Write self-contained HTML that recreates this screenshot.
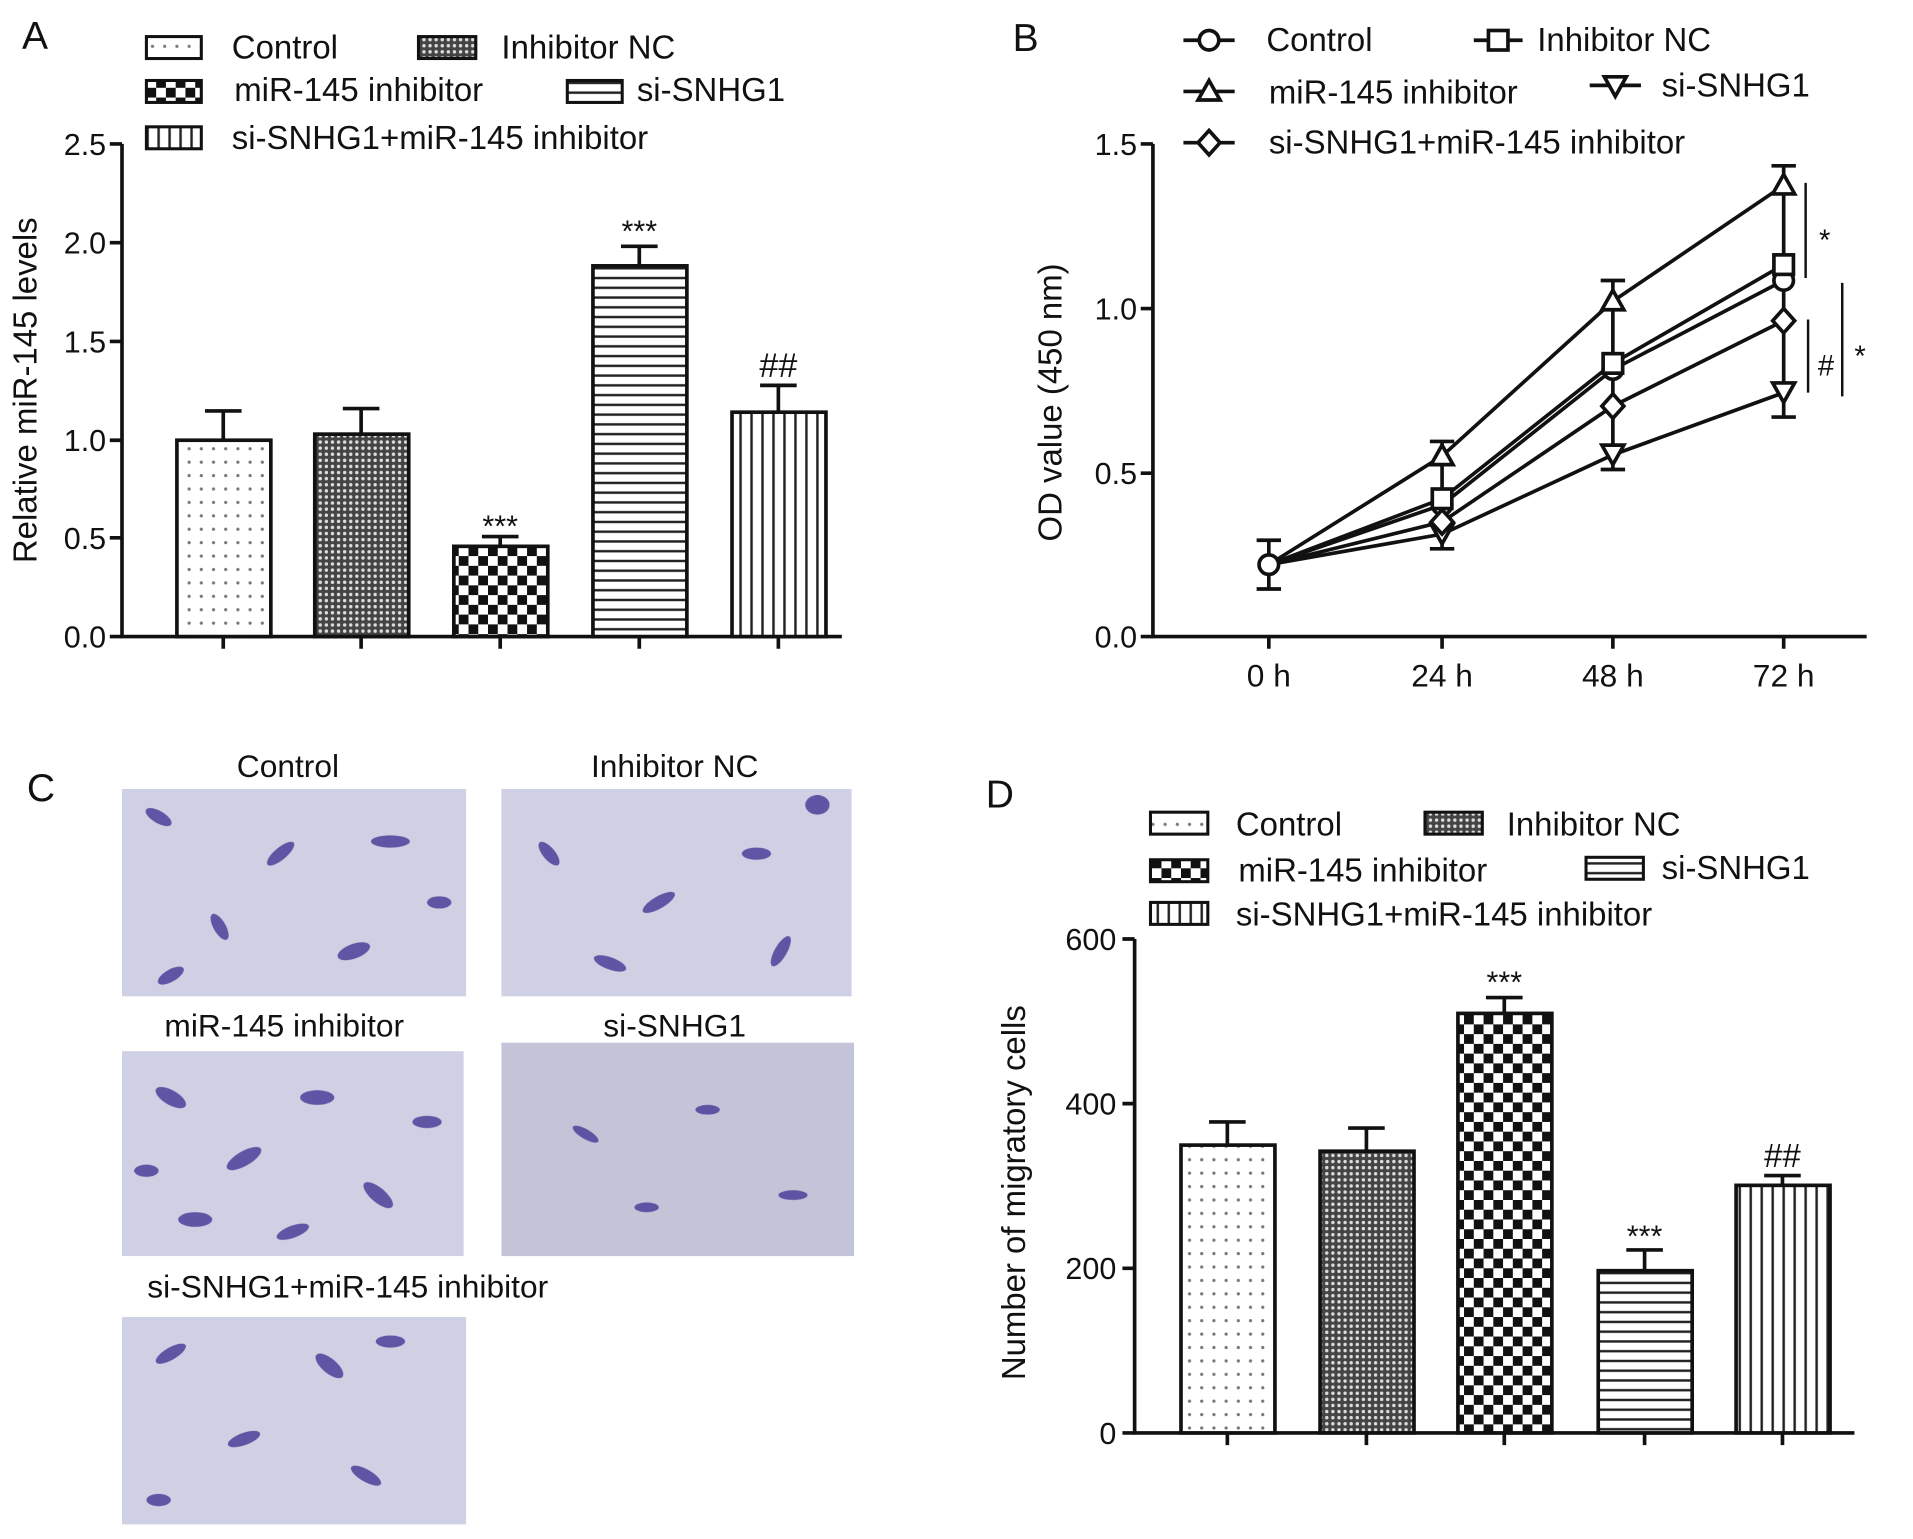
<!DOCTYPE html>
<html><head><meta charset="utf-8"><style>
html,body{margin:0;padding:0;background:#fff;}
svg{display:block;}
text{font-family:"Liberation Sans",Arial,sans-serif;fill:#111;}
</style></head><body>
<svg width="1913" height="1539" viewBox="0 0 1568 1262" preserveAspectRatio="none" xmlns="http://www.w3.org/2000/svg">
<defs>
<pattern id="dots" width="10" height="11" patternUnits="userSpaceOnUse"><rect width="10" height="11" fill="#fff"/><circle cx="5" cy="5" r="1.3" fill="#777"/></pattern>
<pattern id="cross" width="5" height="5" patternUnits="userSpaceOnUse"><rect width="5" height="5" fill="#444"/><circle cx="2.5" cy="2.5" r="1.4" fill="#ddd"/></pattern>
<pattern id="check" width="16" height="16" patternUnits="userSpaceOnUse"><rect width="16" height="16" fill="#fff"/><rect width="8" height="8" fill="#111"/><rect x="8" y="8" width="8" height="8" fill="#111"/></pattern>
<pattern id="hlines" width="10" height="8" patternUnits="userSpaceOnUse"><rect width="10" height="8" fill="#fff"/><rect y="3" width="10" height="2" fill="#222"/></pattern>
<pattern id="vlines" width="9" height="10" patternUnits="userSpaceOnUse"><rect width="9" height="10" fill="#fff"/><rect x="3" width="2" height="10" fill="#222"/></pattern>
</defs>
<g stroke="#111" stroke-width="3" fill="none">
<path d="M100 118V522H690"/>
<path d="M90 118H100M90 199H100M90 280H100M90 361H100M90 441H100M90 522H100"/>
<path d="M183 522V532M296 522V532M410 522V532M524 522V532M638 522V532"/>
</g>
<g font-size="25" text-anchor="end">
<text x="87" y="127">2.5</text><text x="87" y="208">2.0</text><text x="87" y="289">1.5</text><text x="87" y="370">1.0</text><text x="87" y="450">0.5</text><text x="87" y="531">0.0</text>
</g>
<text x="30" y="320" font-size="27" text-anchor="middle" transform="rotate(-90 30 320)">Relative miR-145 levels</text>
<text x="18" y="40" font-size="32">A</text>
<g stroke="#111" stroke-width="3">
<path d="M183 361V337M168 337H198M296 356V335M281 335H311M410 448V440M395 440H425M524 218V202M509 202H539M638 338V316M623 316H653"/>
<rect x="145" y="361" width="77" height="161" fill="url(#dots)"/>
<rect x="258" y="356" width="77" height="166" fill="url(#cross)"/>
<rect x="372" y="448" width="77" height="74" fill="url(#check)"/>
<rect x="486" y="218" width="77" height="304" fill="url(#hlines)"/>
<rect x="600" y="338" width="77" height="184" fill="url(#vlines)"/>
</g>
<g font-size="25" text-anchor="middle"><text x="410" y="440">***</text><text x="524" y="198">***</text><text x="638" y="309" font-size="28">##</text></g>
<g stroke="#111" stroke-width="2.5">
<rect x="120" y="30" width="45" height="18" fill="url(#dots)"/>
<rect x="343" y="30" width="47" height="18" fill="url(#cross)"/>
<rect x="120" y="66" width="45" height="18" fill="url(#check)"/>
<rect x="465" y="66" width="45" height="18" fill="url(#hlines)"/>
<rect x="120" y="104" width="45" height="18" fill="url(#vlines)"/>
</g>
<g font-size="27"><text x="190" y="48">Control</text><text x="411" y="48">Inhibitor NC</text><text x="192" y="83">miR-145 inhibitor</text><text x="522" y="83">si-SNHG1</text><text x="190" y="122">si-SNHG1+miR-145 inhibitor</text></g>

<text x="830" y="42" font-size="32">B</text>
<g stroke="#111" stroke-width="3" fill="none">
<path d="M945 118V522H1530"/>
<path d="M935 118H945M935 253H945M935 388H945M935 522H945"/>
<path d="M1040 522V532M1182 522V532M1322 522V532M1462 522V532"/>
</g>
<g font-size="25" text-anchor="end"><text x="932" y="127">1.5</text><text x="932" y="262">1.0</text><text x="932" y="397">0.5</text><text x="932" y="531">0.0</text></g>
<g font-size="26" text-anchor="middle"><text x="1040" y="563">0 h</text><text x="1182" y="563">24 h</text><text x="1322" y="563">48 h</text><text x="1462" y="563">72 h</text></g>
<text x="870" y="330" font-size="27" text-anchor="middle" transform="rotate(-90 870 330)">OD value (450 nm)</text>
<g stroke="#111" stroke-width="3" fill="none">
<polyline points="1040,463 1182,414 1322,303 1462,230"/>
<polyline points="1040,463 1182,409 1322,298 1462,217"/>
<polyline points="1040,463 1182,374 1322,247 1462,152"/>
<polyline points="1040,463 1182,438 1322,373 1462,322"/>
<polyline points="1040,463 1182,428 1322,333 1462,263"/>
<path d="M1040 443V483M1030 443H1050M1030 483H1050M1182 362V450M1172 362H1192M1172 450H1192M1322 230V385M1312 230H1332M1312 385H1332M1462 136V342M1452 136H1472M1452 342H1472"/>
</g>
<g stroke="#111" stroke-width="3" fill="#fff">
<circle cx="1182" cy="414" r="8"/><circle cx="1322" cy="303" r="8"/><circle cx="1462" cy="230" r="8"/>
<rect x="1174" y="401" width="16" height="16"/><rect x="1314" y="290" width="16" height="16"/><rect x="1454" y="209" width="16" height="16"/>
<path d="M1182 365L1191 381H1173Z M1322 238L1331 254H1313Z M1462 143L1471 159H1453Z"/>
<path d="M1182 446L1191 430H1173Z M1322 381L1331 365H1313Z M1462 330L1471 314H1453Z"/>
<path d="M1182 418L1191 428L1182 438L1173 428Z M1322 323L1331 333L1322 343L1313 333Z M1462 253L1471 263L1462 273L1453 263Z"/>
<circle cx="1040" cy="463" r="8"/>
</g>
<g stroke="#111" stroke-width="2"><path d="M1480 150V228M1482 262V322M1510 232V325"/></g>
<g font-size="24"><text x="1491" y="205">*</text><text x="1490" y="308">#</text><text x="1520" y="300">*</text></g>
<g stroke="#111" stroke-width="3" fill="#fff">
<path d="M970 33H1012M1208 33H1248M970 75H1012M1303 70H1345M970 117H1012"/>
<circle cx="991" cy="33" r="8"/><rect x="1220" y="25" width="16" height="16"/>
<path d="M991 66L1000 82H982Z"/><path d="M1324 79L1333 63H1315Z"/><path d="M991 107L1000 117L991 127L982 117Z"/>
</g>
<g font-size="27"><text x="1038" y="42">Control</text><text x="1260" y="42">Inhibitor NC</text><text x="1040" y="85">miR-145 inhibitor</text><text x="1362" y="79">si-SNHG1</text><text x="1040" y="126">si-SNHG1+miR-145 inhibitor</text></g>

<text x="22" y="657" font-size="32">C</text>
<g font-size="26" text-anchor="middle"><text x="236" y="637">Control</text><text x="553" y="637">Inhibitor NC</text><text x="233" y="850">miR-145 inhibitor</text><text x="553" y="850">si-SNHG1</text><text x="285" y="1064">si-SNHG1+miR-145 inhibitor</text></g>
<g fill="#cfd0e3">
<rect x="100" y="647" width="282" height="170"/><rect x="411" y="647" width="287" height="170"/>
<rect x="100" y="862" width="280" height="168"/><rect x="411" y="855" width="289" height="175" fill="#c4c4d8"/>
<rect x="100" y="1080" width="282" height="170"/>
</g>
<g fill="#4a3f9a" opacity="0.85">
<ellipse cx="130" cy="670" rx="12" ry="5" transform="rotate(30 130 670)"/><ellipse cx="230" cy="700" rx="14" ry="5" transform="rotate(-40 230 700)"/><ellipse cx="320" cy="690" rx="16" ry="5"/><ellipse cx="180" cy="760" rx="12" ry="5" transform="rotate(60 180 760)"/><ellipse cx="290" cy="780" rx="14" ry="6" transform="rotate(-20 290 780)"/><ellipse cx="360" cy="740" rx="10" ry="5"/><ellipse cx="140" cy="800" rx="12" ry="5" transform="rotate(-30 140 800)"/>
<ellipse cx="450" cy="700" rx="12" ry="5" transform="rotate(50 450 700)"/><ellipse cx="540" cy="740" rx="15" ry="5" transform="rotate(-30 540 740)"/><ellipse cx="620" cy="700" rx="12" ry="5"/><ellipse cx="670" cy="660" rx="10" ry="8"/><ellipse cx="500" cy="790" rx="14" ry="5" transform="rotate(20 500 790)"/><ellipse cx="640" cy="780" rx="14" ry="5" transform="rotate(-60 640 780)"/>
<ellipse cx="140" cy="900" rx="14" ry="6" transform="rotate(30 140 900)"/><ellipse cx="200" cy="950" rx="16" ry="6" transform="rotate(-30 200 950)"/><ellipse cx="260" cy="900" rx="14" ry="6"/><ellipse cx="310" cy="980" rx="15" ry="6" transform="rotate(40 310 980)"/><ellipse cx="160" cy="1000" rx="14" ry="6"/><ellipse cx="240" cy="1010" rx="14" ry="5" transform="rotate(-20 240 1010)"/><ellipse cx="350" cy="920" rx="12" ry="5"/><ellipse cx="120" cy="960" rx="10" ry="5"/>
<ellipse cx="480" cy="930" rx="12" ry="4" transform="rotate(30 480 930)"/><ellipse cx="580" cy="910" rx="10" ry="4"/><ellipse cx="650" cy="980" rx="12" ry="4"/><ellipse cx="530" cy="990" rx="10" ry="4"/>
<ellipse cx="140" cy="1110" rx="14" ry="5" transform="rotate(-30 140 1110)"/><ellipse cx="270" cy="1120" rx="14" ry="6" transform="rotate(40 270 1120)"/><ellipse cx="320" cy="1100" rx="12" ry="5"/><ellipse cx="200" cy="1180" rx="14" ry="5" transform="rotate(-20 200 1180)"/><ellipse cx="300" cy="1210" rx="14" ry="5" transform="rotate(30 300 1210)"/><ellipse cx="130" cy="1230" rx="10" ry="5"/>
</g>

<text x="808" y="662" font-size="32">D</text>
<g stroke="#111" stroke-width="3" fill="none">
<path d="M930 770V1175H1520"/>
<path d="M920 770H930M920 905H930M920 1040H930M920 1175H930"/>
<path d="M1006 1175V1185M1120 1175V1185M1233 1175V1185M1348 1175V1185M1461 1175V1185"/>
</g>
<g font-size="25" text-anchor="end"><text x="915" y="779">600</text><text x="915" y="914">400</text><text x="915" y="1049">200</text><text x="915" y="1184">0</text></g>
<text x="840" y="978" font-size="27" text-anchor="middle" transform="rotate(-90 840 978)">Number of migratory cells</text>
<g stroke="#111" stroke-width="3">
<path d="M1006 939V920M991 920H1021M1120 944V925M1105 925H1135M1233 831V818M1218 818H1248M1348 1042V1025M1333 1025H1363M1461 972V964M1446 964H1476"/>
<rect x="968" y="939" width="77" height="236" fill="url(#dots)"/>
<rect x="1082" y="944" width="77" height="231" fill="url(#cross)"/>
<rect x="1195" y="831" width="77" height="344" fill="url(#check)"/>
<rect x="1310" y="1042" width="77" height="133" fill="url(#hlines)"/>
<rect x="1423" y="972" width="77" height="203" fill="url(#vlines)"/>
</g>
<g font-size="25" text-anchor="middle"><text x="1233" y="814">***</text><text x="1348" y="1022">***</text><text x="1461" y="957" font-size="27">##</text></g>
<g stroke="#111" stroke-width="2.5">
<rect x="943" y="666" width="47" height="18" fill="url(#dots)"/>
<rect x="1168" y="666" width="47" height="18" fill="url(#cross)"/>
<rect x="943" y="705" width="47" height="18" fill="url(#check)"/>
<rect x="1300" y="703" width="47" height="18" fill="url(#hlines)"/>
<rect x="943" y="740" width="47" height="18" fill="url(#vlines)"/>
</g>
<g font-size="27"><text x="1013" y="685">Control</text><text x="1235" y="685">Inhibitor NC</text><text x="1015" y="723">miR-145 inhibitor</text><text x="1362" y="721">si-SNHG1</text><text x="1013" y="759">si-SNHG1+miR-145 inhibitor</text></g>
</svg>
</body></html>
